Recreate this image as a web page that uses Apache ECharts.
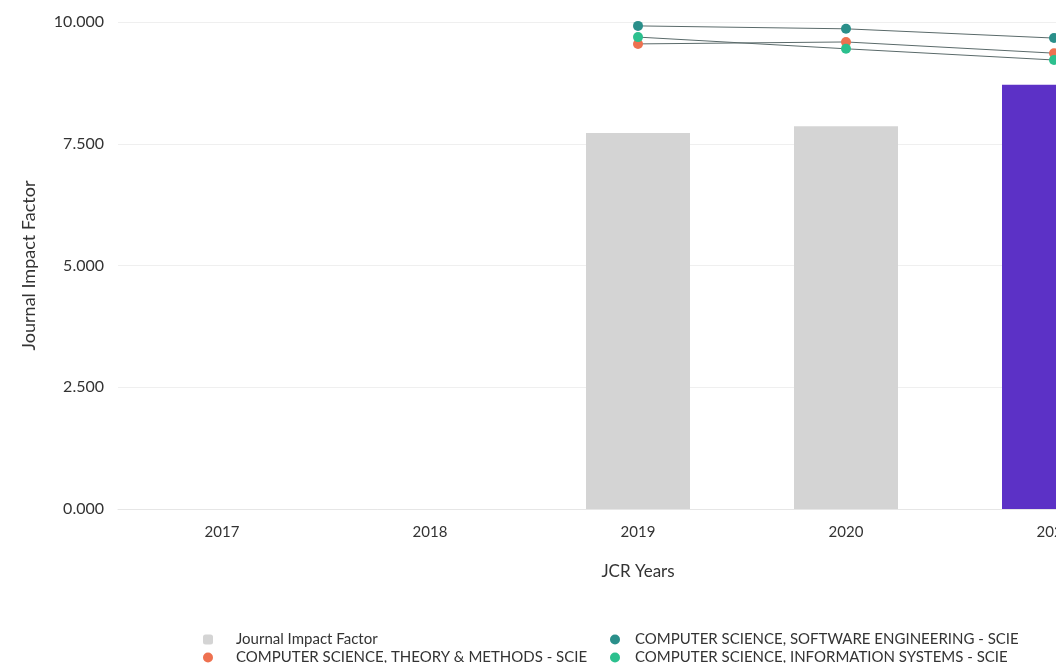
<!DOCTYPE html>
<html><head><meta charset="utf-8">
<script src="https://cdn.jsdelivr.net/npm/echarts@6/dist/echarts.min.js"></script>
<style>html,body{margin:0;padding:0;overflow:hidden;background:#fff;width:1056px;height:663px}#c{width:1200px;height:663px}</style>
</head><body><div id="c"></div>
<script>
const years = ['2017','2018','2019','2020','2021'];
const jif = [null, null, 7.72, 7.86, 8.71];
const softwareEng = [null, null, 9.92, 9.86, 9.67];
const theoryMethods = [null, null, 9.55, 9.59, 9.36];
const infoSystems = [null, null, 9.69, 9.45, 9.22];

const barColors = ['#d4d4d4','#d4d4d4','#d4d4d4','#d4d4d4','#5c31c6'];
const font = 'Lato, "Noto Sans", sans-serif';
const chart = echarts.init(document.getElementById('c'));
function lineSeries(name, data, color){
  return {name, type:'line', data, symbol:'circle', symbolSize:10,
    itemStyle:{color}, lineStyle:{color:'#5a6a6a', width:1}, z:5};
}
function leg(left, top, name, icon, gap){
  return {left, top, itemGap:0, itemWidth:10, itemHeight:10,
    textStyle:{fontSize:15, color:'#333', fontFamily:font, padding:[0,0,0,gap]},
    data:[{name, icon}]};
}
chart.setOption({
  animation:false,
  textStyle:{fontFamily:font},
  grid:{left:118, right:42, top:22, bottom:154},
  xAxis:{type:'category', data:years, name:'JCR Years', nameLocation:'middle', nameGap:54,
    nameTextStyle:{fontSize:17, color:'#333', fontFamily:font},
    axisLine:{show:true, lineStyle:{color:'#e6e6e6'}}, axisTick:{show:false},
    axisLabel:{color:'#333', fontSize:15, margin:16, fontFamily:font}},
  yAxis:{type:'value', min:0, max:10, interval:2.5, name:'Journal Impact Factor', nameLocation:'middle', nameGap:80,
    nameTextStyle:{fontSize:18, color:'#333', fontFamily:font},
    axisLabel:{color:'#333', fontSize:16, margin:14, fontFamily:font, formatter:v=>v.toFixed(3)},
    splitLine:{lineStyle:{color:'#efefef'}}},
  legend:[
    leg(198, 627, 'Journal Impact Factor', 'roundRect', 18),
    leg(198, 645, 'COMPUTER SCIENCE, THEORY & METHODS - SCIE', 'circle', 18),
    leg(605, 627, 'COMPUTER SCIENCE, SOFTWARE ENGINEERING - SCIE', 'circle', 10),
    leg(605, 645, 'COMPUTER SCIENCE, INFORMATION SYSTEMS - SCIE', 'circle', 10)
  ],
  series:[
    {name:'Journal Impact Factor', type:'bar', barWidth:'50%',
     itemStyle:{color:'#d4d4d4'},
     data: jif.map((v,i)=>({value:v, itemStyle:{color:barColors[i]}}))},
    lineSeries('COMPUTER SCIENCE, SOFTWARE ENGINEERING - SCIE', softwareEng, '#2a8f8a'),
    lineSeries('COMPUTER SCIENCE, THEORY & METHODS - SCIE', theoryMethods, '#ee7150'),
    lineSeries('COMPUTER SCIENCE, INFORMATION SYSTEMS - SCIE', infoSystems, '#2cc08e')
  ]
});
</script></body></html>
